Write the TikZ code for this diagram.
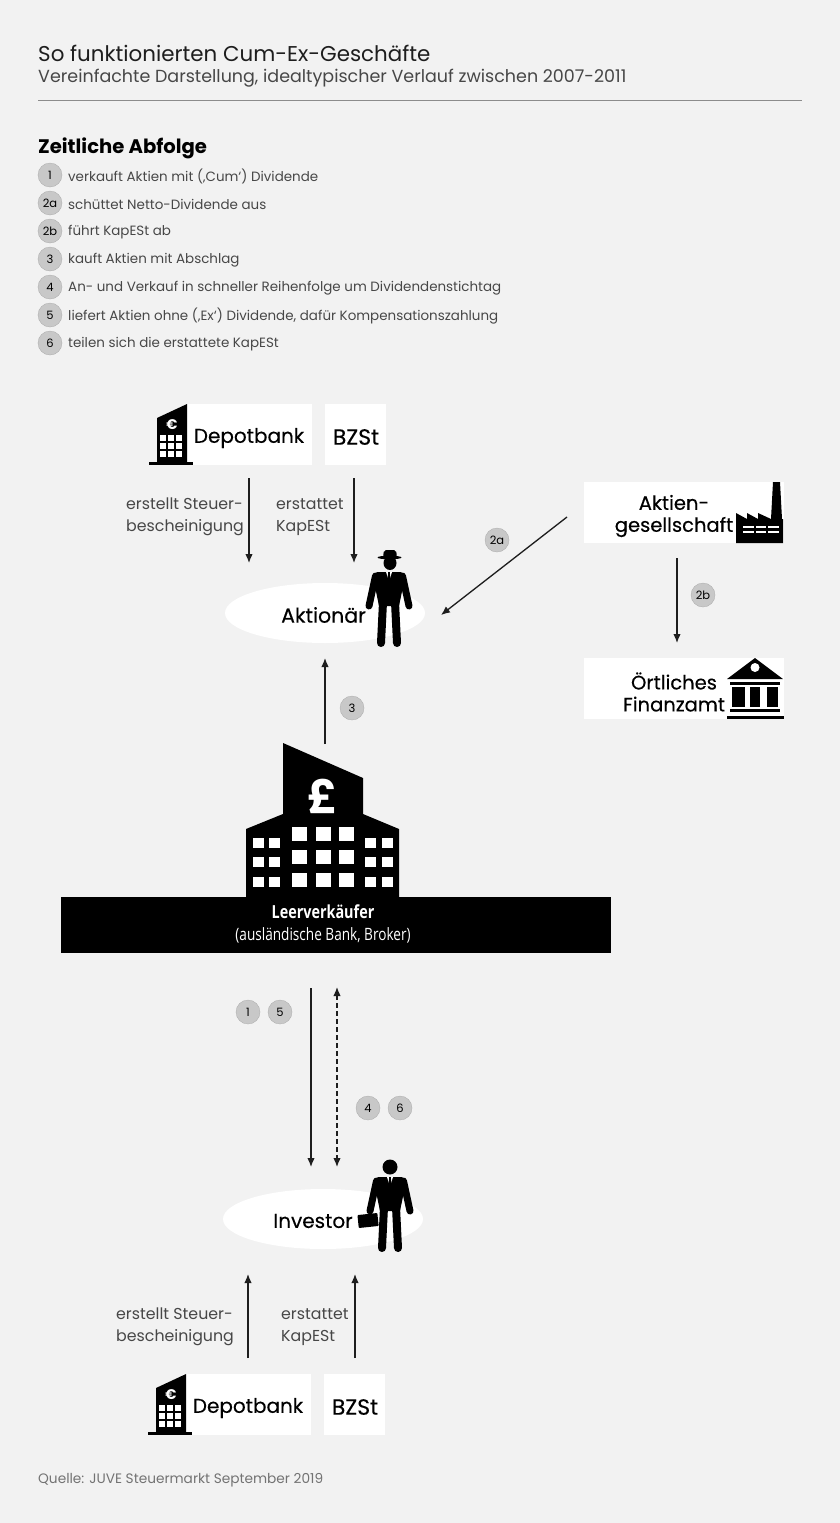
\documentclass[tikz,border=0pt]{standalone}
\usepackage{fontspec}
\setmainfont{Poppins}
\newfontfamily\barfont[FakeStretch=0.8]{Open Sans}
\newfontfamily\boxfont[FakeBold=0.3]{Poppins}
\usetikzlibrary{arrows.meta}

\definecolor{paper}{HTML}{F2F2F2}
\definecolor{ink}{HTML}{1E1E1E}
\definecolor{soft}{HTML}{474747}
\definecolor{badgegray}{HTML}{C8C8C8}

\tikzset{
  badge/.style={circle,fill=badgegray,draw=badgegray!85!black,line width=.3pt,minimum size=24pt,inner sep=0pt,text=black,font=\fontsize{11.5}{12}\selectfont},
  flow/.style={-{Latex[length=9pt,width=7.5pt]},line width=1.3pt,draw=ink},
  whitebox/.style={fill=white,inner sep=0pt},
  boxtext/.style={text=black,font=\boxfont\fontsize{20}{22}\selectfont,align=center,inner sep=0pt},
  note/.style={text=soft,font=\fontsize{15.8}{22}\selectfont,align=left,anchor=west,inner sep=0pt},
  steptext/.style={text=soft,font=\fontsize{13.45}{16}\selectfont,anchor=west,inner sep=0pt},
}

% small black icons, origin is their upper left corner
\newcommand{\bankicon}[2]{
\begin{scope}[shift={(#1,#2)}]
\fill (8,14) -- (38,0) -- (38,58) -- (8,58) -- cycle;
\fill (0,58) rectangle (44,61);
\foreach \cx in {10.5,18.5,26.5}
  \foreach \cy in {31,39,47}
    \fill[white] (\cx,\cy) rectangle +(6,5.5);
\end{scope}
}
\newcommand{\manbody}[2]{
\begin{scope}[shift={(#1,#2)},line cap=round]
\fill (-12,0) -- (12,0) -- (16,5) -- (10,34) -- (-10,34) -- (-16,5) -- cycle;
\draw[line width=7pt] (-13.5,4) -- (-20,34);
\draw[line width=7pt] (13.5,4) -- (20,34);
\draw[line width=8pt] (-6,30) -- (-8,71);
\draw[line width=8pt] (6,30) -- (8,71);
\fill[white] (-3,0) -- (3,0) -- (0,9) -- cycle;
\fill (-.9,0) -- (.9,0) -- (1.4,12) -- (0,16) -- (-1.4,12) -- cycle;
\end{scope}
}

\begin{document}
\begin{tikzpicture}[x=1pt,y=-1pt]
\useasboundingbox (0,0) rectangle (840,1523);
\fill[paper] (0,0) rectangle (840,1523);

% header
\node[anchor=west,inner sep=0pt,text=ink,font=\fontsize{21.4}{24}\selectfont] (title) at (38,53) {So funktionierten Cum-Ex-Geschäfte};
\node[anchor=west,inner sep=0pt,text=soft,font=\fontsize{17.5}{20}\selectfont] (subtitle) at (38,78) {Vereinfachte Darstellung, idealtypischer Verlauf zwischen 2007-2011};
\coordinate (ruleL) at (38,100);
\coordinate (ruleR) at (802,100);
\draw[line width=1pt,draw=black!45] (ruleL) -- (ruleR);
\node[anchor=west,inner sep=0pt,text=black,font=\fontsize{19.6}{22}\selectfont\bfseries] (abfolge) at (38,148) {Zeitliche Abfolge};

\foreach \ypos/\kstep/\txt in {
  175/1/{verkauft Aktien mit (‚Cum‘) Dividende},
  203/2a/{schüttet Netto-Dividende aus},
  231/2b/{führt KapESt ab},
  259/3/{kauft Aktien mit Abschlag},
  287/4/{An- und Verkauf in schneller Reihenfolge um Dividendenstichtag},
  315/5/{liefert Aktien ohne (‚Ex‘) Dividende, dafür Kompensationszahlung},
  343/6/{teilen sich die erstattete KapESt}}
{
  \node[badge] (step\kstep) at (50,\ypos) {\kstep};
  \node[steptext] (steptxt\kstep) at (68,\ypos+1.5) {\txt};
}

% upper part
\node[whitebox,minimum width=127pt,minimum height=61pt] (depotTop) at (248.5,434.5) {};
\node[boxtext] (depotTopTxt) at (249,438) {Depotbank};
\node[whitebox,minimum width=61pt,minimum height=61pt] (bzstTop) at (355.5,434.5) {};
\node[boxtext,font=\boxfont\fontsize{22}{24}\selectfont] (bzstTopTxt) at (356,437) {BZSt};
\bankicon{149}{404}
\node[text=white,inner sep=0pt,font=\fontsize{14}{16}\selectfont\bfseries] (euroTop) at (172,425) {€};

\fill[white] (325,613) ellipse (100 and 30);
\node[boxtext,font=\boxfont\fontsize{20.5}{22}\selectfont] (aktionaer) at (323.5,615) {Aktionär};
\fill[rounded corners=2pt] (383,557) -- (384,550) -- (396,550) -- (397,557) -- cycle;
\fill (389.5,557.5) ellipse (12 and 1.8);
\fill (390,563) ellipse (6.5 and 7);
\manbody{389}{572}

\coordinate (a1) at (249,478); \coordinate (a2) at (249,563);
\coordinate (b1) at (354,478); \coordinate (b2) at (354,563);
\draw[flow] (a1) -- (a2);
\draw[flow] (b1) -- (b2);
\node[note] (certTop) at (126,517) {erstellt Steuer-\\bescheinigung};
\node[note] (refundTop) at (276,517) {erstattet\\KapESt};

% stock company and tax office
\node[whitebox,minimum width=200pt,minimum height=61pt] (agBox) at (684,512.5) {};
\node[boxtext,font=\boxfont\fontsize{19.5}{22}\selectfont] (agTxt) at (674,516) {Aktien-\\gesellschaft};
\begin{scope}[shift={(735,481)}]
\fill (1,32) -- (12,38) -- (12,32) -- (23,38) -- (23,32) -- (36,38) -- (38,1) -- (45,1) -- (47,38) -- (48,38) -- (48,62) -- (1,62) -- cycle;
\foreach \wx in {8,20.5,33}
  \foreach \wy in {45,50}
    \fill[white] (\wx,\wy) rectangle +(10.5,2.2);
\end{scope}

\node[whitebox,minimum width=200pt,minimum height=61pt] (faBox) at (684,688.5) {};
\node[boxtext,font=\boxfont\fontsize{19.5}{22}\selectfont] (faTxt) at (674,692) {Örtliches\\Finanzamt};
\begin{scope}[shift={(727,658)}]
\fill (28,0) -- (56,21) -- (0,21) -- cycle;
\fill[white] (28,9.5) circle (4.5);
\fill (3,24) rectangle (53,26.5);
\fill (5,29) rectangle (18,49);
\fill (23,29) rectangle (33,49);
\fill (40,29) rectangle (51,49);
\fill (3,51) rectangle (53,54);
\fill (0,58) rectangle (57,61);
\end{scope}

\coordinate (c1) at (567,517); \coordinate (c2) at (441,615);
\draw[flow] (c1) -- (c2);
\node[badge] (mark2a) at (497,540) {2a};
\coordinate (d1) at (677,558); \coordinate (d2) at (677,643);
\draw[flow] (d1) -- (d2);
\node[badge] (mark2b) at (703,595) {2b};

% short seller
\coordinate (e1) at (325,744); \coordinate (e2) at (325,658);
\draw[flow] (e1) -- (e2);
\node[badge] (mark3) at (352,708) {3};

\fill (283,743) -- (363,778) -- (363,814) -- (399,829) -- (399,900) -- (246,900) -- (246,829) -- (283,814) -- cycle;
\node[text=white,inner sep=0pt,font=\fontsize{46}{48}\selectfont\bfseries] (pound) at (323,796) {£};
\foreach \cx in {292,316,339}
  \foreach \cy in {827,850,873}
    \fill[white] (\cx,\cy) rectangle +(14.5,14);
\foreach \cx in {253,269,365,382}
  \foreach \cy in {838,857,877}
    \fill[white] (\cx,\cy) rectangle +(10.5,10);
\node[fill=black,minimum width=550pt,minimum height=56pt,inner sep=0pt] (bar) at (336,925) {};
\node[text=white,inner sep=0pt,font=\barfont\fontsize{18}{20}\selectfont\bfseries] (barA) at (323,912) {Leerverkäufer};
\node[text=white,inner sep=0pt,font=\barfont\fontsize{17}{20}\selectfont] (barB) at (323,935) {(ausländische Bank, Broker)};

\coordinate (f1) at (311,988); \coordinate (f2) at (311,1167);
\coordinate (g1) at (337,987); \coordinate (g2) at (337,1167);
\draw[flow] (f1) -- (f2);
\draw[{Latex[length=9pt,width=7.5pt]}-{Latex[length=9pt,width=7.5pt]},line width=1.3pt,draw=ink,dash pattern=on 5pt off 3pt] (g1) -- (g2);
\node[badge] (mark1) at (248,1012) {1};
\node[badge] (mark5) at (280,1012) {5};
\node[badge] (mark4) at (368,1108) {4};
\node[badge] (mark6) at (400,1108) {6};

% investor
\fill[white] (323,1219) ellipse (100 and 30);
\node[boxtext] (investor) at (313,1221) {Investor};
\fill (390,1167) circle (7.5);
\manbody{390}{1177}
\begin{scope}[rotate around={6:(368,1220)}]
\fill[rounded corners=.8pt] (358,1214) rectangle (378,1227);
\end{scope}

% lower part
\coordinate (h1) at (248,1358); \coordinate (h2) at (248,1274);
\coordinate (i1) at (355,1358); \coordinate (i2) at (355,1274);
\draw[flow] (h1) -- (h2);
\draw[flow] (i1) -- (i2);
\node[note] (certBot) at (116,1327) {erstellt Steuer-\\bescheinigung};
\node[note] (refundBot) at (281,1327) {erstattet\\KapESt};

\node[whitebox,minimum width=128pt,minimum height=61pt] (depotBot) at (247,1404.5) {};
\node[boxtext] (depotBotTxt) at (248,1408) {Depotbank};
\node[whitebox,minimum width=61pt,minimum height=61pt] (bzstBot) at (354.5,1404.5) {};
\node[boxtext,font=\boxfont\fontsize{22}{24}\selectfont] (bzstBotTxt) at (355,1407) {BZSt};
\bankicon{148}{1374}
\node[text=white,inner sep=0pt,font=\fontsize{14}{16}\selectfont\bfseries] (euroBot) at (171,1395) {€};

\node[anchor=west,inner sep=0pt,text=black!55,font=\fontsize{13.7}{16}\selectfont] (source) at (38,1480) {Quelle: JUVE Steuermarkt September 2019};
\end{tikzpicture}
\end{document}
